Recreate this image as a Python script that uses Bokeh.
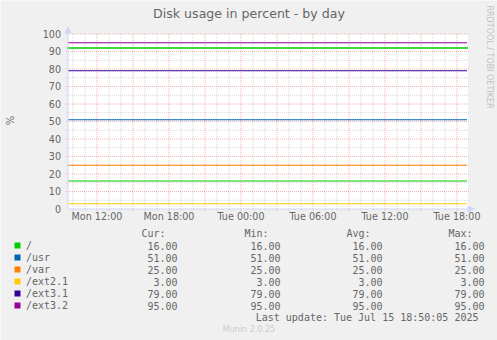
import math

from bokeh.core.properties import value
from bokeh.embed import file_html
from bokeh.models import Arrow, NormalHead, Range1d
from bokeh.plotting import figure
from bokeh.resources import INLINE

# ---- data -------------------------------------------------------------
title = "Disk usage in percent - by day"
y_label = "%"
fields = ["/", "/usr", "/var", "/ext2.1", "/ext3.1", "/ext3.2"]
colors = ["#00cc00", "#0066b3", "#ff8000", "#ffcc00", "#330099", "#990099"]
cur_vals = [16.0, 51.0, 25.0, 3.0, 79.0, 95.0]
min_vals = [16.0, 51.0, 25.0, 3.0, 79.0, 95.0]
avg_vals = [16.0, 51.0, 25.0, 3.0, 79.0, 95.0]
max_vals = [16.0, 51.0, 25.0, 3.0, 79.0, 95.0]
warning_level = 92.0
warning_color = "#00cc00"

# time is measured in hours since Monday 00:00
t_start = 9 + 35 / 60            # first sample, Mon 09:35
t_end = 24 + 18 + 50 / 60         # last update, Tue 18:50
t_window = 400 * 5 / 60           # 400 samples of 5 minutes
x_ticks = [12, 18, 24, 30, 36, 42]
x_tick_labels = ["Mon 12:00", "Mon 18:00", "Tue 00:00",
                 "Tue 06:00", "Tue 12:00", "Tue 18:00"]
y_ticks = list(range(0, 101, 10))
y_max = 100
last_update = "Tue Jul 15 18:50:05 2025"
footer = "Munin 2.0.25"
watermark = "RRDTOOL / TOBI OETIKER"

# ---- page geometry (pixels) -----------------------------------------
W, H = 497, 340
canvas_left, canvas_bottom = 67.5, 208.5
px_per_hour = 12.0
px_per_unit = 1.75

BG = "#f0f0f0"
FONT = "#666666"
AXIS = "#cfd6f8"
GRID = "#d6d6d6"
MGRID = "#f2b0b0"
SANS = value("DejaVu Sans")
MONO = value("DejaVu Sans Mono")


def drop(size):
    """The text glyph sits about 0.4 em below its anchor; lift it back."""
    return 0.4 * size


x_range = Range1d(t_start - canvas_left / px_per_hour,
                  t_start + (W - canvas_left) / px_per_hour)
y_range = Range1d(-(H - canvas_bottom) / px_per_unit,
                  canvas_bottom / px_per_unit)

p = figure(width=W, height=H, x_range=x_range, y_range=y_range,
           title=None, output_backend="svg", toolbar_location=None,
           x_axis_location=None, y_axis_location=None,
           min_border=0, background_fill_color=BG,
           border_fill_color=BG, outline_line_color=None)
p.grid.visible = False
# a pixel-space range pair for the page furniture (title, legend)
p.extra_x_ranges = {"px": Range1d(0, W)}
p.extra_y_ranges = {"px": Range1d(H, 0)}

t_view_end = t_start + t_window
dx = 1 / px_per_hour
dy = 1 / px_per_unit

# white canvas
p.quad(left=[t_start], right=[t_view_end], bottom=[0], top=[y_max],
       fill_color="white", line_color=None)

# grid: hours (minor) / 3 hours (major), 5 % (minor) / 10 % (major)
hours = list(range(math.ceil(t_start), math.floor(t_view_end) + 1))
minor_h = [h for h in hours if h % 3]
major_h = [h for h in hours if h % 3 == 0]
p.segment(x0=minor_h, x1=minor_h, y0=[-2 * dy] * len(minor_h),
          y1=[y_max + dy] * len(minor_h), line_color=GRID,
          line_width=1, line_dash="1 1")
levels = list(range(5, y_max + 1, 5))
minor_v = [v for v in levels if v % 10]
major_v = [v for v in levels if v % 10 == 0]
p.segment(x0=[t_start - 2 * dx] * len(minor_v),
          x1=[t_view_end + 2 * dx] * len(minor_v),
          y0=minor_v, y1=minor_v, line_color=GRID,
          line_width=1, line_dash="1 1")
p.segment(x0=major_h, x1=major_h, y0=[-2 * dy] * len(major_h),
          y1=[y_max + dy] * len(major_h), line_color=MGRID,
          line_width=1, line_dash="1 1")
p.segment(x0=[t_start - 2 * dx] * len(major_v),
          x1=[t_view_end + 2 * dx] * len(major_v),
          y0=major_v, y1=major_v, line_color=MGRID,
          line_width=1, line_dash="1 1")

# axes with arrow heads
p.add_layout(Arrow(x_start=t_start, y_start=0,
                   x_end=t_view_end + 6 * dx, y_end=0,
                   line_color=AXIS, line_width=1,
                   end=NormalHead(size=6, fill_color=AXIS, line_color=AXIS)))
p.add_layout(Arrow(x_start=t_start, y_start=0,
                   x_end=t_start, y_end=y_max + 7 * dy,
                   line_color=AXIS, line_width=1,
                   end=NormalHead(size=6, fill_color=AXIS, line_color=AXIS)))

# series
for name, col, v in zip(fields, colors, cur_vals):
    p.line([t_start, t_end], [v, v], line_color=col, line_width=1.2)
p.line([t_start - dx, t_view_end], [warning_level, warning_level],
       line_color=warning_color, line_width=1.6)

# tick labels
tick_fs = 9.6
p.text(x=[canvas_left - 7] * len(y_ticks), y=y_ticks,
       text=[str(t) for t in y_ticks], x_range_name="px",
       text_font=SANS, text_font_size=f"{tick_fs}px", text_color=FONT,
       text_align="right", text_baseline="alphabetic",
       y_offset=3.6 - drop(tick_fs))
p.text(x=x_ticks, y=[220 - drop(tick_fs)] * len(x_ticks),
       text=x_tick_labels, y_range_name="px", text_font=SANS,
       text_font_size=f"{tick_fs}px", text_color=FONT,
       text_align="center", text_baseline="alphabetic")

# title, y label, watermark
title_fs = 12.6
p.text(x=[248.5], y=[17.8 - drop(title_fs)], text=[title],
       x_range_name="px", y_range_name="px", text_font=SANS,
       text_font_size=f"{title_fs}px", text_color=FONT,
       text_align="center", text_baseline="alphabetic")
p.text(x=[14 - drop(10)], y=[120], text=[y_label], x_range_name="px",
       y_range_name="px", text_font=SANS, text_font_size="10px",
       text_color=FONT, text_align="center", text_baseline="alphabetic",
       angle=math.pi / 2)
p.text(x=[485.5 + drop(8)], y=[5], text=[watermark], x_range_name="px",
       y_range_name="px", text_font=SANS, text_font_size="8px",
       text_color="#c0c0c0", text_align="left", text_baseline="alphabetic",
       angle=-math.pi / 2)

# legend table
mono_fs = 10
lift = drop(mono_fs)
row0 = 249
row_h = 12
rows = [row0 + i * row_h for i in range(len(fields))]
col_right = [177, 280, 382, 484]
headers = ["Cur:", "Min:", "Avg:", "Max:"]
p.rect(x=[17] * len(fields), y=[r - 4 for r in rows], width=6, height=6,
       fill_color=colors, line_color=None,
       x_range_name="px", y_range_name="px")
p.text(x=[25.5] * len(fields), y=[r - lift for r in rows], text=fields,
       x_range_name="px", y_range_name="px", text_font=MONO,
       text_font_size=f"{mono_fs}px", text_color=FONT, text_align="left",
       text_baseline="alphabetic")
p.text(x=[c - 12 for c in col_right], y=[row0 - row_h - lift] * 4,
       text=headers, x_range_name="px", y_range_name="px", text_font=MONO,
       text_font_size=f"{mono_fs}px", text_color=FONT, text_align="right",
       text_baseline="alphabetic")
for c, vals in zip(col_right, [cur_vals, min_vals, avg_vals, max_vals]):
    p.text(x=[c] * len(vals), y=[r - lift for r in rows],
           text=[f"{v:.2f}" for v in vals],
           x_range_name="px", y_range_name="px", text_font=MONO,
           text_font_size=f"{mono_fs}px", text_color=FONT,
           text_align="right", text_baseline="alphabetic")
p.text(x=[col_right[-1]], y=[rows[-1] + row_h - lift],
       text=["Last update:  " + last_update],
       x_range_name="px", y_range_name="px", text_font=MONO,
       text_font_size=f"{mono_fs}px", text_color=FONT, text_align="right",
       text_baseline="alphabetic")
p.text(x=[248.5], y=[332 - drop(8)], text=[footer], x_range_name="px",
       y_range_name="px", text_font=SANS, text_font_size="8px",
       text_color="#cccccc", text_align="center",
       text_baseline="alphabetic")

open("out.html", "w").write(file_html(p, INLINE))
